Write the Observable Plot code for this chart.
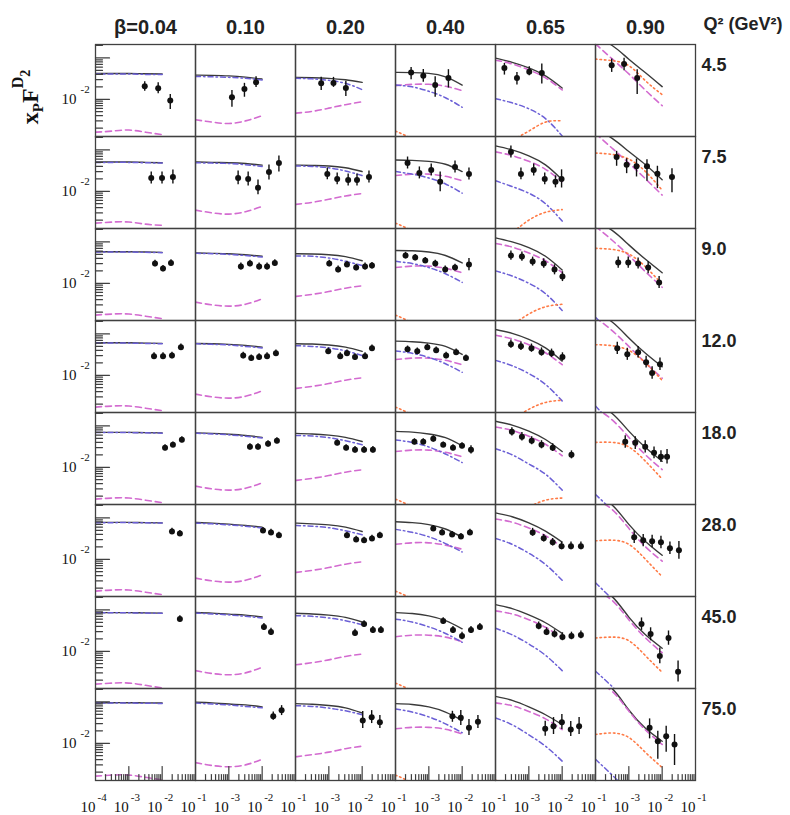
<!DOCTYPE html>
<html>
<head>
<meta charset="utf-8">
<script src="https://cdn.jsdelivr.net/npm/d3@7"></script>
<script src="https://cdn.jsdelivr.net/npm/@observablehq/plot@0.6"></script>
<style>
  body { margin: 0; background: #fff; }
  #chart { width: 790px; height: 815px; }
</style>
</head>
<body>
<div id="chart"></div>
<script>
// ---- categories ----
const betas = ["0.04", "0.10", "0.20", "0.40", "0.65", "0.90"];
const q2s = ["4.5", "7.5", "9.0", "12.0", "18.0", "28.0", "45.0", "75.0"];
// x_P nodes at which the model curves are read
const xNodes = [1e-4, 3.16e-4, 1e-3, 3.16e-3, 1e-2];

// ---- model curves: [Q2 row][beta column] -> values at xNodes ----
const solidCurve = [
  [[0.042,0.042,0.042,0.0415,0.041],[0.0385,0.0379,0.0368,0.0343,0.0308],[0.0339,0.0333,0.0321,0.0296,0.0257],[0.0447,0.0442,0.0423,0.0349,0.0221],[0.099,0.078,0.0574,0.0368,0.0187],[0.30,0.20,0.093,0.044,0.0202]],
  [[0.051,0.051,0.051,0.050,0.049],[0.051,0.050,0.049,0.047,0.043],[0.043,0.042,0.041,0.037,0.030],[0.057,0.056,0.053,0.045,0.030],[0.125,0.10,0.072,0.0435,0.019],[0.32,0.19,0.092,0.044,0.0191]],
  [[0.058,0.058,0.058,0.057,0.056],[0.054,0.053,0.052,0.049,0.045],[0.052,0.051,0.049,0.044,0.035],[0.062,0.061,0.057,0.047,0.031],[0.125,0.10,0.073,0.045,0.021],[0.31,0.19,0.085,0.038,0.018]],
  [[0.061,0.061,0.061,0.060,0.059],[0.059,0.058,0.056,0.053,0.048],[0.058,0.057,0.054,0.048,0.038],[0.067,0.065,0.060,0.050,0.032],[0.128,0.103,0.074,0.046,0.022],[0.32,0.195,0.08,0.034,0.016]],
  [[0.070,0.070,0.070,0.069,0.068],[0.068,0.066,0.063,0.059,0.053],[0.066,0.064,0.060,0.053,0.042],[0.074,0.071,0.064,0.052,0.033],[0.13,0.105,0.075,0.047,0.024],[0.33,0.20,0.075,0.030,0.014]],
  [[0.078,0.078,0.078,0.077,0.076],[0.078,0.075,0.071,0.066,0.060],[0.075,0.072,0.068,0.060,0.047],[0.081,0.077,0.069,0.054,0.034],[0.133,0.107,0.076,0.048,0.026],[0.34,0.205,0.07,0.027,0.0125]],
  [[0.086,0.086,0.086,0.085,0.084],[0.087,0.084,0.079,0.075,0.068],[0.083,0.080,0.075,0.066,0.051],[0.086,0.082,0.072,0.055,0.035],[0.135,0.108,0.076,0.049,0.027],[0.345,0.21,0.067,0.025,0.0118]],
  [[0.096,0.096,0.096,0.095,0.094],[0.098,0.095,0.089,0.085,0.076],[0.091,0.088,0.082,0.072,0.054],[0.091,0.087,0.076,0.057,0.036],[0.136,0.109,0.076,0.049,0.0284],[0.35,0.21,0.064,0.023,0.0112]]
];
const dashedCurve = [
  [[0.0016,0.0017,0.0018,0.0016,0.0014],[0.0032,0.0028,0.0026,0.0030,0.0040],[0.0046,0.0051,0.0061,0.0074,0.0087],[0.0214,0.023,0.023,0.0206,0.0162],[0.0885,0.0717,0.0514,0.033,0.0168],[0.22,0.095,0.041,0.0165,0.0070]],
  [[0.0017,0.0018,0.0018,0.0016,0.0015],[0.0035,0.0030,0.0028,0.0032,0.0043],[0.0048,0.0054,0.0064,0.0077,0.0088],[0.024,0.026,0.026,0.023,0.018],[0.090,0.073,0.053,0.034,0.0172],[0.25,0.11,0.048,0.020,0.0081]],
  [[0.0017,0.0018,0.0018,0.0016,0.0014],[0.0035,0.0030,0.0028,0.0031,0.0042],[0.0048,0.0054,0.0063,0.0076,0.0087],[0.024,0.026,0.026,0.023,0.018],[0.092,0.075,0.054,0.035,0.018],[0.24,0.11,0.047,0.019,0.0080]],
  [[0.0017,0.0018,0.0018,0.0016,0.0014],[0.0035,0.0030,0.0028,0.0031,0.0042],[0.0048,0.0054,0.0063,0.0076,0.0087],[0.024,0.026,0.026,0.023,0.018],[0.093,0.076,0.055,0.035,0.018],[0.25,0.12,0.050,0.020,0.0085]],
  [[0.0017,0.0018,0.0018,0.0016,0.0014],[0.0035,0.0030,0.0028,0.0031,0.0042],[0.0048,0.0054,0.0063,0.0076,0.0087],[0.024,0.026,0.026,0.023,0.018],[0.094,0.078,0.056,0.036,0.019],[0.27,0.14,0.053,0.020,0.0088]],
  [[0.0017,0.0018,0.0018,0.0016,0.0014],[0.0035,0.0030,0.0028,0.0031,0.0042],[0.0048,0.0054,0.0063,0.0076,0.0087],[0.023,0.025,0.025,0.022,0.0175],[0.094,0.079,0.057,0.037,0.020],[0.28,0.16,0.056,0.020,0.009]],
  [[0.0016,0.0017,0.0017,0.0015,0.0013],[0.0034,0.0029,0.0027,0.0030,0.0041],[0.0047,0.0053,0.0062,0.0075,0.0086],[0.0225,0.0245,0.0245,0.022,0.017],[0.095,0.080,0.058,0.038,0.021],[0.29,0.17,0.058,0.021,0.0092]],
  [[0.0016,0.0017,0.0017,0.0015,0.0013],[0.0034,0.0029,0.0027,0.0030,0.0041],[0.0047,0.0053,0.0061,0.0074,0.0085],[0.0224,0.0243,0.0243,0.0218,0.0169],[0.095,0.081,0.059,0.039,0.0215],[0.30,0.18,0.060,0.021,0.0094]]
];
const dashDotCurve = [
  [[0.041,0.041,0.041,0.040,0.040],[0.0358,0.0349,0.0339,0.0321,0.0292],[0.0321,0.0312,0.0287,0.0243,0.0171],[0.0221,0.020,0.0156,0.0109,0.0064],[0.0103,0.0082,0.0059,0.0034,0.0013],null],
  [[0.050,0.050,0.050,0.049,0.048],[0.049,0.048,0.047,0.044,0.040],[0.041,0.040,0.037,0.031,0.024],[0.030,0.026,0.021,0.015,0.009],[0.018,0.013,0.009,0.005,0.0019],[0.0013,0.0005,0.0002,0.0001,0.00005]],
  [[0.057,0.057,0.057,0.056,0.055],[0.053,0.052,0.050,0.047,0.043],[0.046,0.045,0.041,0.034,0.027],[0.034,0.030,0.024,0.017,0.0105],[0.020,0.015,0.010,0.0056,0.0022],[0.0015,0.0006,0.00025,0.0001,0.00005]],
  [[0.060,0.060,0.060,0.059,0.058],[0.058,0.056,0.054,0.050,0.046],[0.052,0.050,0.046,0.039,0.030],[0.039,0.034,0.027,0.019,0.0118],[0.023,0.017,0.011,0.0060,0.0024],[0.0018,0.0007,0.0003,0.0001,0.00005]],
  [[0.069,0.069,0.069,0.068,0.067],[0.067,0.064,0.061,0.056,0.051],[0.059,0.057,0.052,0.044,0.035],[0.046,0.040,0.031,0.021,0.013],[0.028,0.020,0.012,0.0068,0.0028],[0.0022,0.0009,0.00035,0.00015,0.00006]],
  [[0.077,0.077,0.077,0.076,0.075],[0.075,0.072,0.068,0.063,0.057],[0.066,0.063,0.058,0.049,0.039],[0.053,0.045,0.035,0.024,0.015],[0.032,0.023,0.014,0.0075,0.0031],[0.0027,0.0011,0.00045,0.00018,0.00007]],
  [[0.085,0.085,0.085,0.084,0.083],[0.084,0.080,0.076,0.070,0.064],[0.073,0.070,0.064,0.055,0.044],[0.060,0.051,0.039,0.027,0.0165],[0.036,0.025,0.015,0.0080,0.0034],[0.0033,0.0014,0.00055,0.00022,0.00009]],
  [[0.094,0.094,0.094,0.093,0.092],[0.094,0.089,0.085,0.078,0.072],[0.081,0.078,0.071,0.061,0.049],[0.068,0.057,0.0435,0.0295,0.018],[0.041,0.028,0.016,0.0085,0.0037],[0.0041,0.0017,0.0007,0.0003,0.0001]]
];
const dottedCurve = [
  [null,null,null,[0.0017,0.0011,0.0006,0.0003,0.0002],[0.0005,0.0010,0.0017,0.0028,0.0030],[0.094,0.086,0.065,0.028,0.013]],
  [null,null,null,[0.0017,0.0011,0.0006,0.0003,0.0002],[0.0005,0.0010,0.0020,0.0031,0.0036],[0.084,0.078,0.060,0.030,0.0106]],
  [null,null,null,[0.0017,0.0011,0.0006,0.0003,0.0002],[0.0006,0.0010,0.0018,0.0027,0.0031],[0.070,0.066,0.051,0.025,0.0095]],
  [null,null,null,[0.0017,0.0011,0.0006,0.0003,0.0002],[0.0007,0.0009,0.0015,0.0022,0.0025],[0.055,0.052,0.040,0.020,0.0075]],
  [null,null,null,[0.0017,0.0011,0.0006,0.0003,0.0002],[0.0009,0.0008,0.0011,0.0016,0.0018],[0.040,0.040,0.031,0.014,0.0052]],
  [null,null,null,[0.0017,0.0011,0.0006,0.0003,0.0002],[0.0011,0.0007,0.0008,0.0011,0.0012],[0.028,0.029,0.023,0.010,0.0038]],
  [null,null,null,[0.0017,0.0011,0.0006,0.0003,0.0002],[0.0013,0.0007,0.0006,0.0007,0.0008],[0.021,0.022,0.018,0.0078,0.0031]],
  [null,null,null,[0.0017,0.0011,0.0006,0.0003,0.0002],[0.0013,0.0007,0.0005,0.0005,0.0005],[0.0163,0.0177,0.0138,0.0060,0.0026]]
];

// ---- measurements: [Q2 row][beta column] -> [x_P, value, lower, upper] ----
const measurements = [
  [ // 4.5
    [[0.0030,0.0206,0.0156,0.0267],[0.0076,0.0184,0.0136,0.025],[0.0175,0.0093,0.00565,0.0130]],
    [[0.00124,0.0112,0.0064,0.0162],[0.00294,0.0177,0.0112,0.0243],[0.00656,0.0257,0.0194,0.0352]],
    [[0.00059,0.0243,0.0162,0.0339],[0.00138,0.0247,0.0194,0.0339],[0.00324,0.0187,0.0116,0.0272]],
    [[0.000294,0.0447,0.0298,0.059],[0.000682,0.0373,0.0257,0.0528],[0.00155,0.0221,0.0112,0.0352],[0.00387,0.0326,0.0187,0.052]],
    [[0.000185,0.057,0.0385,0.0737],[0.00044,0.0326,0.0221,0.0447],[0.00103,0.0465,0.0373,0.0614],[0.00245,0.043,0.0234,0.071]],
    [[0.000306,0.067,0.0447,0.094],[0.00072,0.071,0.049,0.099],[0.00178,0.0326,0.013,0.052]]
  ],
  [ // 7.5
    [[0.0047,0.021,0.0151,0.0293],[0.0099,0.021,0.0151,0.0293],[0.021,0.0222,0.0151,0.0328]],
    [[0.0019,0.021,0.0143,0.031],[0.0038,0.0199,0.0135,0.0293],[0.0075,0.0121,0.0082,0.0188],[0.016,0.0293,0.0188,0.0433],[0.0318,0.0483,0.0293,0.0713]],
    [[0.0009,0.0263,0.019,0.0367],[0.00178,0.0199,0.0143,0.0278],[0.0038,0.0188,0.0135,0.0262],[0.0070,0.0188,0.0135,0.0262],[0.016,0.0222,0.0159,0.031]],
    [[0.00023,0.0483,0.0346,0.0674],[0.00052,0.0278,0.0199,0.0388],[0.00118,0.0328,0.0235,0.0458],[0.00219,0.0169,0.0098,0.0293],[0.0061,0.0387,0.0277,0.054],[0.016,0.0263,0.0188,0.0367]],
    [[0.00029,0.089,0.064,0.124],[0.00058,0.0263,0.019,0.0367],[0.0014,0.0328,0.0235,0.0458],[0.0030,0.0199,0.0143,0.0278],[0.0063,0.0169,0.0121,0.0236],[0.0096,0.0199,0.012,0.033]],
    [[0.00043,0.0674,0.0403,0.0925],[0.00086,0.044,0.0267,0.0614],[0.0017,0.0403,0.0222,0.0604],[0.0035,0.0403,0.0175,0.058],[0.0072,0.0267,0.0116,0.0403],[0.0197,0.0222,0.0092,0.0352]]
  ],
  [ // 9.0
    [[0.0061,0.030,0.025,0.036],[0.0106,0.0227,0.019,0.027],[0.0184,0.031,0.026,0.037]],
    [[0.0023,0.0254,0.021,0.031],[0.0043,0.030,0.025,0.036],[0.0081,0.0254,0.021,0.031],[0.014,0.0254,0.021,0.031],[0.024,0.031,0.026,0.037]],
    [[0.00103,0.030,0.025,0.036],[0.0019,0.0215,0.018,0.026],[0.0035,0.0284,0.024,0.034],[0.0066,0.024,0.020,0.029],[0.0122,0.0254,0.021,0.031],[0.0197,0.0268,0.022,0.032]],
    [[0.0002,0.0468,0.039,0.056],[0.00039,0.0418,0.035,0.050],[0.00078,0.0354,0.030,0.042],[0.00156,0.030,0.025,0.036],[0.0031,0.0215,0.018,0.026],[0.0061,0.024,0.020,0.029],[0.016,0.0284,0.020,0.040]],
    [[0.00029,0.0468,0.036,0.060],[0.00062,0.0443,0.034,0.057],[0.0013,0.0335,0.026,0.043],[0.0028,0.030,0.023,0.039],[0.0059,0.0215,0.016,0.028],[0.0102,0.0146,0.011,0.019]],
    [[0.00048,0.0317,0.023,0.043],[0.00096,0.0317,0.023,0.043],[0.0019,0.030,0.022,0.041],[0.0038,0.024,0.017,0.033],[0.0081,0.0105,0.0075,0.0145]]
  ],
  [ // 12.0
    [[0.0057,0.029,0.024,0.035],[0.0106,0.029,0.024,0.035],[0.0197,0.030,0.025,0.036],[0.0365,0.0478,0.040,0.057]],
    [[0.0027,0.030,0.025,0.036],[0.0047,0.026,0.022,0.031],[0.0081,0.0275,0.023,0.033],[0.014,0.029,0.024,0.035],[0.0259,0.0343,0.029,0.041]],
    [[0.00096,0.0383,0.032,0.046],[0.0022,0.029,0.024,0.035],[0.0035,0.0343,0.029,0.041],[0.0061,0.0275,0.023,0.033],[0.0122,0.029,0.024,0.035],[0.0197,0.0452,0.038,0.054]],
    [[0.00023,0.0428,0.036,0.051],[0.00045,0.0383,0.032,0.046],[0.0009,0.0478,0.040,0.057],[0.00166,0.0405,0.034,0.048],[0.0033,0.030,0.025,0.036],[0.0066,0.0362,0.030,0.043],[0.013,0.026,0.022,0.031]],
    [[0.00029,0.0565,0.045,0.071],[0.00058,0.0506,0.040,0.064],[0.0012,0.0452,0.036,0.057],[0.0024,0.0362,0.029,0.046],[0.0048,0.0343,0.027,0.043],[0.0102,0.0275,0.022,0.035]],
    [[0.00045,0.0452,0.032,0.063],[0.0009,0.0324,0.023,0.045],[0.0019,0.0362,0.026,0.050],[0.0033,0.0208,0.015,0.029],[0.005,0.0113,0.008,0.016],[0.0086,0.0186,0.013,0.026]]
  ],
  [ // 18.0
    [[0.0122,0.0296,0.025,0.035],[0.021,0.035,0.030,0.041],[0.039,0.0462,0.039,0.055]],
    [[0.0043,0.0314,0.026,0.037],[0.0075,0.0314,0.026,0.037],[0.015,0.0371,0.031,0.044],[0.0277,0.0437,0.037,0.052]],
    [[0.00178,0.0391,0.033,0.046],[0.0033,0.0296,0.025,0.035],[0.0061,0.0265,0.022,0.032],[0.0114,0.0265,0.022,0.032],[0.021,0.0265,0.022,0.032]],
    [[0.00037,0.0414,0.035,0.049],[0.00068,0.0414,0.035,0.049],[0.00136,0.0489,0.041,0.058],[0.0027,0.035,0.030,0.041],[0.0053,0.0296,0.025,0.035],[0.0099,0.0331,0.028,0.039],[0.0184,0.0265,0.021,0.033]],
    [[0.00031,0.072,0.057,0.091],[0.00062,0.0546,0.043,0.069],[0.00122,0.0437,0.035,0.055],[0.0024,0.035,0.028,0.044],[0.0052,0.0296,0.024,0.037],[0.019,0.0201,0.016,0.025]],
    [[0.00078,0.0414,0.029,0.058],[0.00156,0.0391,0.027,0.055],[0.0031,0.0314,0.022,0.044],[0.0057,0.0225,0.016,0.031],[0.0092,0.018,0.013,0.025],[0.014,0.018,0.012,0.027]]
  ],
  [ // 28.0
    [[0.0197,0.0473,0.040,0.056],[0.034,0.0423,0.036,0.050]],
    [[0.0106,0.050,0.042,0.059],[0.0184,0.0447,0.038,0.053],[0.0318,0.0379,0.032,0.045]],
    [[0.0035,0.0379,0.032,0.045],[0.0066,0.0303,0.026,0.036],[0.0114,0.0287,0.024,0.034],[0.0197,0.032,0.027,0.038],[0.034,0.0379,0.032,0.045]],
    [[0.00136,0.0558,0.047,0.066],[0.0025,0.0447,0.038,0.053],[0.005,0.040,0.034,0.047],[0.0092,0.0358,0.030,0.042],[0.0171,0.0447,0.038,0.053]],
    [[0.0013,0.0447,0.036,0.056],[0.0028,0.0321,0.026,0.040],[0.0052,0.0257,0.021,0.032],[0.0096,0.0206,0.017,0.026],[0.0184,0.0206,0.017,0.026],[0.0365,0.0206,0.017,0.026]],
    [[0.00145,0.034,0.024,0.048],[0.0027,0.0287,0.020,0.040],[0.005,0.0272,0.019,0.038],[0.0092,0.0257,0.018,0.036],[0.0171,0.0184,0.013,0.026],[0.0318,0.0165,0.010,0.027]]
  ],
  [ // 45.0
    [[0.034,0.0604,0.051,0.072]],
    [[0.0113,0.0387,0.032,0.047],[0.0184,0.0293,0.024,0.036]],
    [[0.0061,0.0278,0.023,0.034],[0.0114,0.0457,0.038,0.055],[0.021,0.0328,0.027,0.040],[0.0365,0.0328,0.027,0.040]],
    [[0.0027,0.054,0.045,0.065],[0.0053,0.0328,0.027,0.040],[0.0099,0.0235,0.019,0.029],[0.0184,0.0328,0.027,0.040],[0.034,0.0387,0.032,0.047]],
    [[0.00198,0.041,0.033,0.051],[0.0034,0.0293,0.024,0.037],[0.0059,0.0263,0.021,0.033],[0.0102,0.0222,0.018,0.028],[0.019,0.0235,0.019,0.029],[0.0365,0.0248,0.020,0.031]],
    [[0.0024,0.0457,0.032,0.064],[0.0045,0.0263,0.018,0.037],[0.0085,0.0077,0.005,0.012],[0.0155,0.021,0.014,0.031],[0.030,0.0032,0.0018,0.0058]]
  ],
  [ // 75.0
    [],
    [[0.0215,0.045,0.036,0.0574],[0.0383,0.0628,0.0468,0.0814]],
    [[0.0104,0.0354,0.0227,0.0584],[0.0193,0.0425,0.030,0.0617],[0.034,0.0322,0.0227,0.0468]],
    [[0.0051,0.045,0.0322,0.0594],[0.0091,0.0412,0.0268,0.0617],[0.016,0.0237,0.0154,0.0375],[0.0297,0.033,0.0227,0.0468]],
    [[0.0031,0.0224,0.0148,0.034],[0.0055,0.0258,0.0163,0.0419],[0.0098,0.0322,0.0215,0.0494],[0.0181,0.0215,0.0146,0.0335],[0.0322,0.0258,0.0163,0.0419]],
    [[0.0042,0.0237,0.0128,0.0389],[0.0074,0.0112,0.0041,0.0196],[0.0132,0.0148,0.0061,0.0258],[0.0235,0.0094,0.0029,0.0163]]
  ]
];

// ---- axis tick values ----
const yMajorTicks = [0.01, 0.1];
const yMinorTicks = [0.002,0.003,0.004,0.005,0.006,0.007,0.008,0.009,0.02,0.03,0.04,0.05,0.06,0.07,0.08,0.09,0.2];
const xMajorTicks = [1e-3, 1e-2];
const xMinorTicks = [2e-4,3e-4,4e-4,5e-4,6e-4,7e-4,8e-4,9e-4,2e-3,3e-3,4e-3,5e-3,6e-3,7e-3,8e-3,9e-3,2e-2,3e-2,4e-2,5e-2,6e-2,7e-2,8e-2,9e-2];
const xLabelValues = [1e-4, 1e-3, 1e-2, 1e-1];
const xLabelExps = ["-4", "-3", "-2", "-1"];

// ---- build tidy tables ----
const styles = [
  {key: "solid", values: solidCurve, stroke: "#3a3a3a", width: 1.4, dash: null},
  {key: "dashed", values: dashedCurve, stroke: "#d36bd0", width: 1.6, dash: "6,4"},
  {key: "dashdot", values: dashDotCurve, stroke: "#6b5fd6", width: 1.5, dash: "5,3,1.5,3"},
  {key: "dotted", values: dottedCurve, stroke: "#ff7a45", width: 1.6, dash: "1.5,3"}
];
const curveRows = [];
styles.forEach(s => q2s.forEach((q, r) => betas.forEach((b, c) => {
  const v = s.values[r][c];
  if (!v) return;
  v.forEach((y, i) => curveRows.push({style: s.key, q2: q, beta: b, x: xNodes[i], y}));
})));
const pointRows = [];
q2s.forEach((q, r) => betas.forEach((b, c) => {
  measurements[r][c].forEach(([x, y, lo, hi]) => pointRows.push({q2: q, beta: b, x, y, lo, hi}));
}));

const yTickRows = (vals) => q2s.flatMap(q => vals.map(v => ({q2: q, beta: betas[0], v})));
const xTickRows = (vals) => betas.flatMap(b => vals.map(v => ({q2: q2s[7], beta: b, v})));
const xLabelRows = betas.flatMap((b, c) => xLabelValues.map((v, i) => ({beta: b, q2: q2s[7], v, exp: xLabelExps[i]}))
  .filter((d, i) => c === 0 || i > 0));

const tickShape = {draw(ctx, l) { ctx.moveTo(0, 0); ctx.lineTo(0, -l); }};
const serif = "Liberation Serif, DejaVu Serif, serif";
const sans = "Liberation Sans, Arial, sans-serif";
const frameColor = "#404040";

const curveMarks = styles.map(s => Plot.line(curveRows.filter(d => d.style === s.key), {
  x: "x", y: "y", fx: "beta", fy: "q2",
  stroke: s.stroke, strokeWidth: s.width, strokeDasharray: s.dash,
  curve: "natural", clip: true
}));

const chart = Plot.plot({
  width: 790,
  height: 815,
  marginTop: 42, marginBottom: 34, marginLeft: 93, marginRight: 93,
  style: {background: "#fff", overflow: "visible"},
  fx: {domain: betas, padding: 0, axis: null},
  fy: {domain: q2s, padding: 0, axis: null},
  x: {type: "log", domain: [1e-4, 1e-1], axis: null},
  y: {type: "log", domain: [0.001257, 0.2115], axis: null},
  marks: [
    ...curveMarks,
    Plot.ruleX(pointRows, {x: "x", y1: "lo", y2: "hi", fx: "beta", fy: "q2", stroke: "#111", strokeWidth: 1.4, clip: true}),
    Plot.dot(pointRows, {x: "x", y: "y", fx: "beta", fy: "q2", r: 3, fill: "#111", stroke: null}),
    // inward ticks on the left axis (first column only)
    Plot.vector(yTickRows(yMajorTicks), {y: "v", fx: "beta", fy: "q2", frameAnchor: "left", length: 14, rotate: 90, anchor: "start", shape: tickShape, stroke: frameColor, strokeWidth: 1.2}),
    Plot.vector(yTickRows(yMinorTicks), {y: "v", fx: "beta", fy: "q2", frameAnchor: "left", length: 7, rotate: 90, anchor: "start", shape: tickShape, stroke: frameColor, strokeWidth: 1.2}),
    // inward ticks on the bottom axis (last row only)
    Plot.vector(xTickRows(xMajorTicks), {x: "v", fx: "beta", fy: "q2", frameAnchor: "bottom", length: 14, rotate: 0, anchor: "start", shape: tickShape, stroke: frameColor, strokeWidth: 1.2}),
    Plot.vector(xTickRows(xMinorTicks), {x: "v", fx: "beta", fy: "q2", frameAnchor: "bottom", length: 6, rotate: 0, anchor: "start", shape: tickShape, stroke: frameColor, strokeWidth: 1.2}),
    Plot.frame({stroke: frameColor, strokeWidth: 1.3}),
    // y tick labels 10^-2
    Plot.text(q2s, {fy: d => d, fx: () => betas[0], y: () => 0.01, text: () => "10", frameAnchor: "left", dx: -19, textAnchor: "end", fontSize: 15, fontFamily: serif, fill: "#111"}),
    Plot.text(q2s, {fy: d => d, fx: () => betas[0], y: () => 0.01, text: () => "-2", frameAnchor: "left", dx: -15, dy: -10, textAnchor: "start", fontSize: 11, fontFamily: serif, fill: "#111"}),
    // x tick labels
    Plot.text(xLabelRows, {x: "v", fx: "beta", fy: "q2", text: () => "10", frameAnchor: "bottom", dy: 31, lineAnchor: "bottom", textAnchor: "end", fontSize: 15, fontFamily: serif, fill: "#111"}),
    Plot.text(xLabelRows, {x: "v", fx: "beta", fy: "q2", text: "exp", frameAnchor: "bottom", dy: 20, dx: 2, lineAnchor: "bottom", textAnchor: "start", fontSize: 11, fontFamily: serif, fill: "#111"}),
    // column headers
    Plot.text(betas, {fx: d => d, fy: () => q2s[0], text: (d, i) => i === 0 ? "β=" + d : d, frameAnchor: "top", dy: -11, lineAnchor: "bottom", fontSize: 20, fontWeight: "bold", fontFamily: sans, fill: "#222"}),
    // Q2 row labels
    Plot.text(q2s, {fy: d => d, fx: () => betas[5], text: d => d, frameAnchor: "top-right", dx: 6, dy: 26.5, lineAnchor: "bottom", textAnchor: "start", fontSize: 18, fontWeight: "bold", fontFamily: sans, fill: "#222"}),
    Plot.text(["Q² (GeV²)"], {fy: () => q2s[0], fx: () => betas[5], text: d => d, frameAnchor: "top-right", dx: 8, dy: -15, lineAnchor: "bottom", textAnchor: "start", fontSize: 18, fontWeight: "bold", fontFamily: sans, fill: "#222"})
  ]
});

// y-axis title x_P F^D_2
const title = d3.select(chart).append("text")
  .attr("transform", "translate(38,97) rotate(-90)")
  .attr("font-family", serif).attr("font-weight", "bold").attr("fill", "#111");
title.append("tspan").attr("font-size", 24).text("x");
title.append("tspan").attr("font-size", 15).attr("dy", 5).text("P");
title.append("tspan").attr("font-size", 24).attr("dy", -5).text("F");
title.append("tspan").attr("font-size", 16).attr("dy", -15).text("D");
title.append("tspan").attr("font-size", 14).attr("dy", 7).text("2");

document.getElementById("chart").appendChild(chart);
</script>
</body>
</html>
